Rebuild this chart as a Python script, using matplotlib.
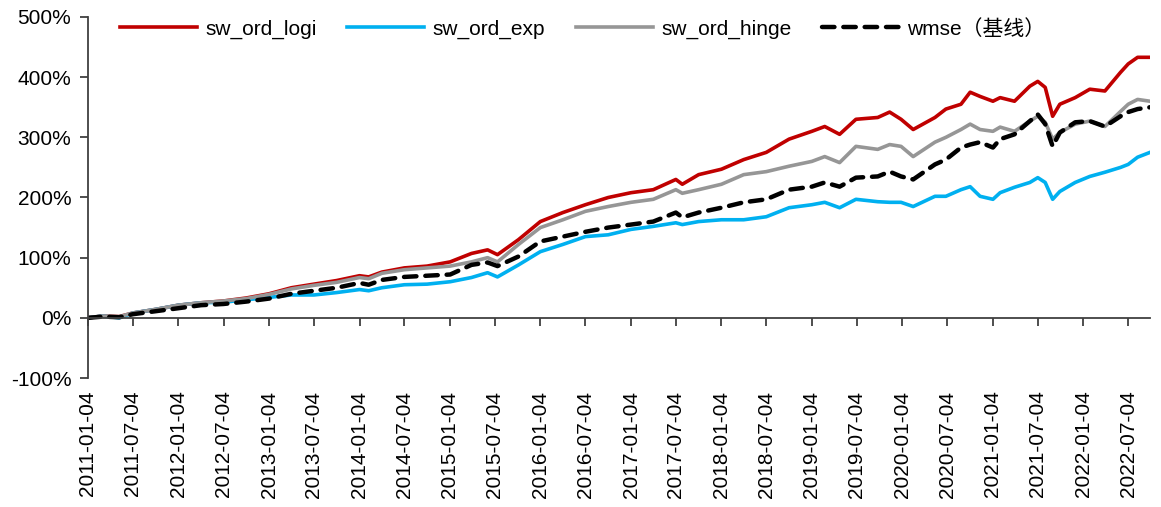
import pandas as pd
import matplotlib
matplotlib.use("Agg")
import matplotlib.pyplot as plt
from matplotlib.ticker import FuncFormatter

plt.rcParams['font.family'] = ['Liberation Sans', 'Noto Sans CJK SC', 'DejaVu Sans']

# cumulative returns (%)
dates = ["2011-01-04", "2011-03-04", "2011-05-10", "2011-07-04", "2011-10-04",
         "2012-01-04", "2012-04-04", "2012-07-04", "2012-10-04", "2013-01-04",
         "2013-04-04", "2013-07-04", "2013-10-04", "2014-01-04", "2014-02-10",
         "2014-04-04", "2014-07-04", "2014-10-04", "2015-01-05", "2015-04-01",
         "2015-06-05", "2015-07-15", "2015-10-08", "2016-01-04", "2016-04-04",
         "2016-07-04", "2016-10-04", "2017-01-04", "2017-04-04", "2017-07-04",
         "2017-07-30", "2017-10-04", "2018-01-04", "2018-04-04", "2018-07-04",
         "2018-10-04", "2019-01-04", "2019-02-25", "2019-04-26", "2019-07-01",
         "2019-09-27", "2019-11-14", "2019-12-30", "2020-02-17", "2020-05-15",
         "2020-06-28", "2020-08-28", "2020-10-04", "2020-11-13", "2021-01-04",
         "2021-02-02", "2021-04-01", "2021-06-02", "2021-07-04", "2021-08-03",
         "2021-09-02", "2021-10-01", "2021-12-02", "2022-01-30", "2022-04-01",
         "2022-06-03", "2022-07-04", "2022-08-11", "2022-09-30"]

sw_ord_logi = [0, 3, 2, 8, 14, 21, 25, 28, 33, 40, 50, 56, 62, 70, 68, 76, 83, 86, 93, 107,
               113, 105, 130, 160, 175, 188, 200, 208, 213, 230, 222, 238, 247, 263, 275,
               297, 310, 318, 305, 330, 333, 342, 330, 313, 333, 347, 355, 375, 368, 360,
               366, 360, 385, 393, 383, 335, 355, 366, 380, 377, 408, 422, 433, 433]
sw_ord_exp = [0, 3, 0, 8, 14, 21, 25, 26, 30, 34, 38, 38, 42, 47, 45, 50, 55, 56, 60, 67,
              75, 68, 88, 110, 122, 135, 138, 147, 152, 158, 155, 160, 163, 163, 168,
              183, 188, 192, 183, 197, 193, 192, 192, 185, 202, 202, 213, 218, 202, 197,
              208, 217, 225, 233, 225, 197, 210, 225, 235, 242, 250, 255, 267, 275]
sw_ord_hinge = [0, 3, 2, 8, 14, 21, 25, 28, 32, 39, 48, 54, 59, 67, 65, 74, 80, 83, 86, 93,
                100, 93, 122, 150, 163, 177, 185, 192, 197, 213, 207, 213, 222, 238, 243,
                252, 260, 268, 258, 285, 280, 288, 285, 268, 292, 300, 313, 322, 313, 310,
                317, 310, 327, 335, 325, 297, 308, 322, 327, 318, 343, 355, 363, 360]
wmse = [0, 2, 1, 6, 11, 16, 21, 23, 27, 32, 40, 45, 50, 58, 55, 63, 68, 70, 72, 88,
        92, 86, 102, 127, 135, 143, 150, 155, 160, 175, 167, 175, 183, 192, 197,
        213, 218, 225, 218, 233, 235, 243, 235, 230, 255, 263, 283, 288, 292, 283,
        297, 305, 327, 338, 322, 285, 308, 325, 327, 318, 335, 342, 347, 350]

tick_labels = ["2011-01-04", "2011-07-04", "2012-01-04", "2012-07-04", "2013-01-04",
               "2013-07-04", "2014-01-04", "2014-07-04", "2015-01-04", "2015-07-04",
               "2016-01-04", "2016-07-04", "2017-01-04", "2017-07-04", "2018-01-04",
               "2018-07-04", "2019-01-04", "2019-07-04", "2020-01-04", "2020-07-04",
               "2021-01-04", "2021-07-04", "2022-01-04", "2022-07-04"]

df = pd.DataFrame({'logi': sw_ord_logi, 'exp': sw_ord_exp,
                   'hinge': sw_ord_hinge, 'wmse': wmse}, index=pd.to_datetime(dates))

fig = plt.figure(figsize=(11.61, 5.07), dpi=100)
ax = fig.add_axes([88 / 1161, 129 / 507, 1062 / 1161, 361 / 507])

ax.plot(df.index, df['logi'], color='#C00000', lw=2.6, label='sw_ord_logi')
ax.plot(df.index, df['exp'], color='#00B0F0', lw=2.6, label='sw_ord_exp')
ax.plot(df.index, df['hinge'], color='#969696', lw=2.6, label='sw_ord_hinge')
ax.plot(df.index, df['wmse'], color='black', lw=3.2, dashes=(2.8, 2.0),
        dash_capstyle='round', label='wmse（基线）')

ax.set_ylim(-100, 500)
ax.set_yticks(range(-100, 501, 100))
ax.yaxis.set_major_formatter(FuncFormatter(lambda v, p: '%d%%' % v))
ax.set_xlim(pd.Timestamp("2011-01-04"), pd.Timestamp("2022-09-30"))

ticks = pd.to_datetime(tick_labels)
ax.set_xticks(ticks)
ax.spines['top'].set_visible(False)
ax.spines['right'].set_visible(False)
ax.spines['bottom'].set_position(('data', 0))
for s in ['left', 'bottom']:
    ax.spines[s].set_color('#404040')
    ax.spines[s].set_linewidth(1.3)
ax.tick_params(axis='x', direction='out', length=6, width=1.3, color='#404040', labelbottom=False)
ax.tick_params(axis='y', direction='out', length=6, width=1.3, color='#404040', labelsize=15, pad=6)

sec = ax.secondary_xaxis('bottom')
sec.set_xticks(ticks)
sec.set_xticklabels(tick_labels, rotation=90, fontsize=15)
sec.tick_params(length=0, pad=9)
sec.spines['bottom'].set_visible(False)

ax.legend(loc='upper left', bbox_to_anchor=(0.0125, 1.047), ncol=4, frameon=False,
          fontsize=15, handlelength=3.7, handletextpad=0.4, columnspacing=1.46)

fig.savefig('out.png', dpi=100)
